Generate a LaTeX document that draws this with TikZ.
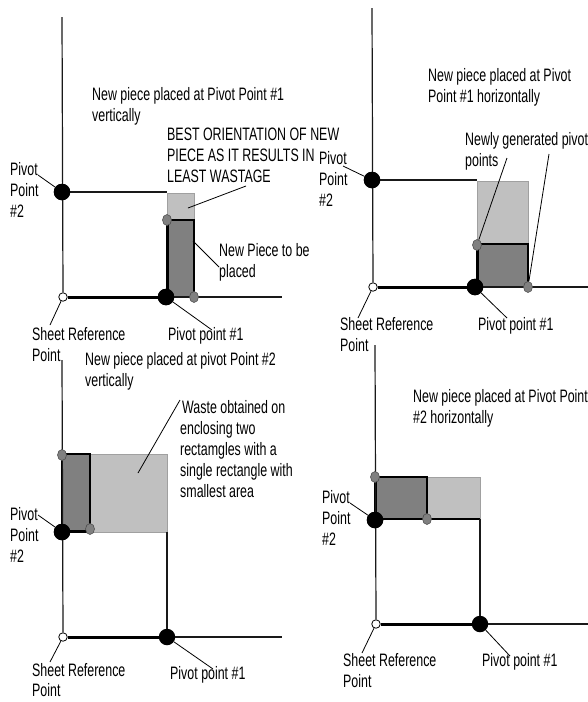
\documentclass[tikz,border=0pt]{standalone}
\usepackage{fontspec}
\newfontfamily\labfont[FakeStretch=0.69]{Liberation Sans}
\usetikzlibrary{shapes.geometric}
\definecolor{dkp}{HTML}{808080}
\definecolor{ltp}{HTML}{C0C0C0}
\definecolor{ltb}{HTML}{A0A0A0}
\begin{document}
\begin{tikzpicture}[x=1pt,y=-1pt,
  lbl/.style={font=\labfont\fontsize{18}{21}\selectfont, inner sep=0pt, anchor=north west, align=left},
  axisline/.style={line width=1.2pt, draw=black!90},
  thinline/.style={line width=1.4pt, draw=black!90},
  thickline/.style={line width=3pt, draw=black},
  leader/.style={line width=0.8pt, draw=black},
  darkrect/.style={fill=dkp, draw=black, line width=1.4pt},
  lightrect/.style={fill=ltp, draw=ltb, line width=1pt},
  pivotdot/.style={circle, fill=black, minimum size=16.5pt, inner sep=0pt},
  gpt/.style={ellipse, fill=dkp, draw=black!70, line width=0.6pt, minimum width=9pt, minimum height=11pt, inner sep=0pt},
  sref/.style={circle, draw=black, fill=white, line width=0.8pt, minimum size=8.5pt, inner sep=0pt}
]
\useasboundingbox (0,0) rectangle (588,702);

% ===================== Panel 1 (top-left) =====================
\fill[lightrect] (167,193) rectangle (194,220);
\draw[darkrect] (167,220) rectangle (194,297);
\draw[line width=2.6pt] (167.5,220) -- (167.5,297);
\coordinate (ax1t) at (62,17);
\coordinate (ax1e) at (282,297);
\node[sref] (s1) at (63,297) {};
\node[pivotdot] (p1a) at (166,297) {};
\node[pivotdot] (p2a) at (62,192) {};
\coordinate (t1e) at (167,192);
\draw[axisline] (ax1t) -- (s1.north);
\draw[thinline] (p2a) -- (t1e);
\draw[thickline] (s1.east) -- (p1a);
\draw[thinline] (p1a) -- (ax1e);
\node[gpt] (g1a) at (167,220) {};
\node[gpt] (g1b) at (194,297) {};
\node[pivotdot] at (166,297) {};
\node[pivotdot] at (62,192) {};

\node[lbl] (t1) at (92,87) {New piece placed at Pivot Point \#1\\vertically};
\node[lbl] (best) at (167,128) {BEST ORIENTATION OF NEW\\PIECE AS IT RESULTS IN\\LEAST WASTAGE};
\node[lbl] (np) at (219,243) {New Piece to be\\placed};
\node[lbl] (pv2a) at (10,162) {Pivot\\Point\\\#2};
\node[lbl] (sr1) at (32,327) {Sheet Reference\\Point};
\node[lbl] (pp1) at (168,327) {Pivot point \#1};

\coordinate (lb1) at (246,186);
\coordinate (lc1) at (188,208);
\coordinate (ln1) at (219,267);
\coordinate (ld1) at (193,241);
\coordinate (lv2a) at (38,175);
\coordinate (ls1) at (50,325);
\coordinate (lp1) at (212,330);
\draw[leader] (lb1) -- (lc1);
\draw[leader] (ld1) -- (ln1);
\draw[leader] (lv2a) -- (p2a);
\draw[leader] (s1) -- (ls1);
\draw[leader] (p1a) -- (lp1);

% ===================== Panel 2 (top-right) =====================
\fill[lightrect] (477,181) rectangle (528,244);
\draw[darkrect] (477,244) rectangle (528,287);
\draw[line width=2.6pt] (477.5,244) -- (477.5,287);
\coordinate (ax2t) at (372,8);
\coordinate (ax2e) at (588,287);
\node[sref] (s2) at (373,287) {};
\node[pivotdot] (p1b) at (475,287) {};
\node[pivotdot] (p2b) at (372,180) {};
\coordinate (t2e) at (477,180);
\draw[axisline] (ax2t) -- (s2.north);
\draw[thinline] (p2b) -- (t2e);
\draw[thickline] (s2.east) -- (p1b);
\draw[thinline] (p1b) -- (ax2e);
\node[gpt] (g2a) at (477,245) {};
\node[gpt] (g2b) at (528,287) {};
\node[pivotdot] at (475,287) {};
\node[pivotdot] at (372,180) {};

\node[lbl] (t2) at (428,68) {New piece placed at Pivot\\Point \#1 horizontally};
\node[lbl] (ng) at (465,132) {Newly generated pivot\\points};
\node[lbl] (pv2b) at (319,151) {Pivot\\Point\\\#2};
\node[lbl] (sr2) at (340,317) {Sheet Reference\\Point};
\node[lbl] (pp2) at (478,317) {Pivot point \#1};

\coordinate (ln2a) at (507,158);
\coordinate (ln2b) at (549,154);
\coordinate (lv2b) at (343,166);
\coordinate (ls2) at (358,318);
\coordinate (lp2) at (507,318);
\draw[leader] (ln2a) -- (g2a);
\draw[leader] (ln2b) -- (g2b);
\draw[leader] (lv2b) -- (p2b);
\draw[leader] (s2) -- (ls2);
\draw[leader] (p1b) -- (lp2);

% ===================== Panel 3 (bottom-left) =====================
\fill[lightrect] (90,454) rectangle (167,532);
\draw[darkrect] (62,454) rectangle (90,532);
\draw[line width=2.6pt] (62,531.5) -- (90,531.5);
\coordinate (ax3t) at (62,360);
\coordinate (ax3e) at (282,637);
\coordinate (v3t) at (167,532);
\node[sref] (s3) at (63,637) {};
\node[pivotdot] (p1c) at (167,637) {};
\node[pivotdot] (p2c) at (62,532) {};
\draw[axisline] (ax3t) -- (s3.north);
\draw[axisline] (v3t) -- (p1c);
\draw[thickline] (s3.east) -- (p1c);
\draw[thinline] (p1c) -- (ax3e);
\node[gpt] (g3a) at (62,455) {};
\node[gpt] (g3b) at (90,529) {};
\node[pivotdot] at (62,532) {};

\node[lbl] (t3) at (85,352) {New piece placed at pivot Point \#2\\vertically};
\node[lbl] (ws) at (180,400) {\hspace{2pt}Waste obtained on\\enclosing two\\rectamgles with a\\single rectangle with\\smallest area};
\node[lbl] (pv2c) at (10,507) {Pivot\\Point\\\#2};
\node[lbl, font=\labfont\fontsize{18}{20}\selectfont] (sr3) at (32,663) {Sheet Reference\\Point};
\node[lbl] (pp3) at (170,666) {Pivot point \#1};

\coordinate (lw3) at (180,400);
\coordinate (lc3) at (138,473);
\coordinate (lv2c) at (38,515);
\coordinate (ls3) at (50,662);
\coordinate (lp3) at (213,669);
\draw[leader] (lw3) -- (lc3);
\draw[leader] (lv2c) -- (p2c);
\draw[leader] (s3) -- (ls3);
\draw[leader] (p1c) -- (lp3);

% ===================== Panel 4 (bottom-right) =====================
\fill[lightrect] (427,477) rectangle (480,519);
\draw[darkrect] (375,477) rectangle (427,519);
\draw[line width=2.6pt] (375.5,477) -- (375.5,519);
\draw[line width=2.2pt] (375,519) -- (480,519);
\coordinate (ax4t) at (375,345);
\coordinate (ax4e) at (588,624);
\coordinate (v4t) at (480,519);
\node[sref] (s4) at (376,624) {};
\node[pivotdot] (p1d) at (480,624) {};
\node[pivotdot] (p2d) at (375,520) {};
\draw[axisline] (ax4t) -- (s4.north);
\draw[axisline] (v4t) -- (p1d);
\draw[thickline] (s4.east) -- (p1d);
\draw[thinline] (p1d) -- (ax4e);
\node[gpt] (g4a) at (375,477) {};
\node[gpt] (g4b) at (427,519) {};
\node[pivotdot] at (375,520) {};

\node[lbl] (t4) at (413,389) {New piece placed at Pivot Point\\\#2 horizontally};
\node[lbl] (pv2d) at (322,490) {Pivot\\Point\\\#2};
\node[lbl] (sr4) at (343,653) {Sheet Reference\\Point};
\node[lbl] (pp4) at (482,653) {Pivot point \#1};

\coordinate (lv2d) at (350,503);
\coordinate (ls4) at (362,653);
\coordinate (lp4) at (510,656);
\draw[leader] (lv2d) -- (p2d);
\draw[leader] (s4) -- (ls4);
\draw[leader] (p1d) -- (lp4);
\end{tikzpicture}
\end{document}
